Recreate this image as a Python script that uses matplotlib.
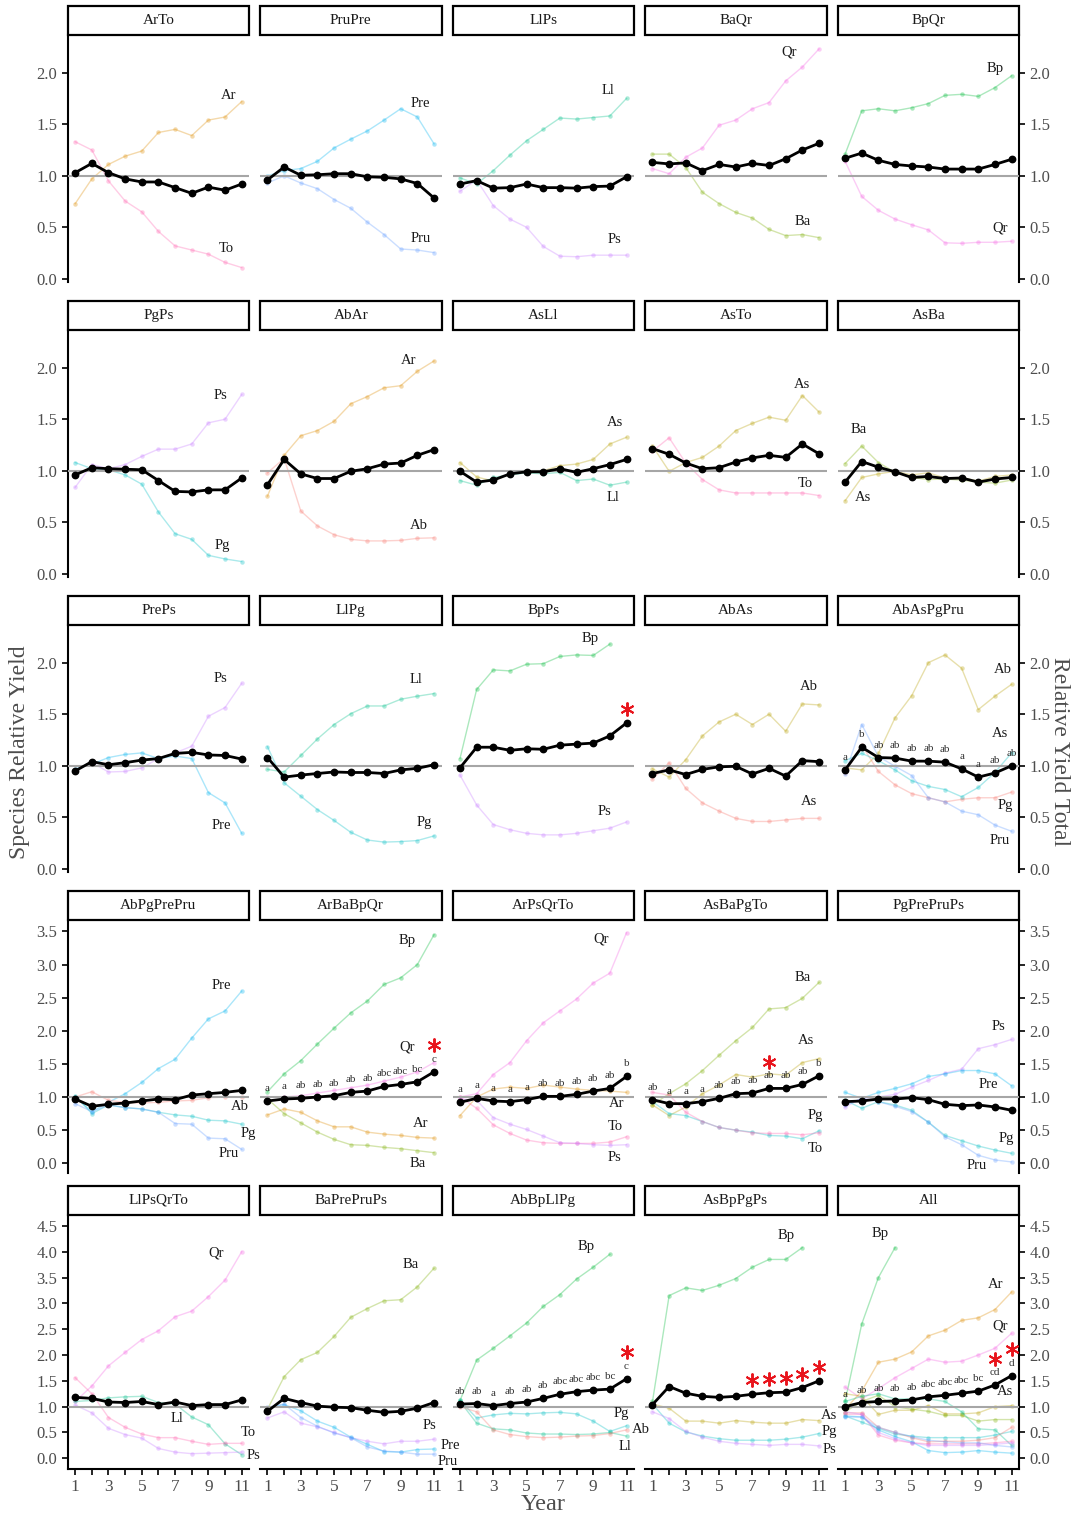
import matplotlib
matplotlib.use("Agg")
import matplotlib.pyplot as plt
from matplotlib.patches import Rectangle
from matplotlib.transforms import ScaledTranslation

plt.rcParams['font.family'] = ['Liberation Serif', 'DejaVu Serif']

NaN = float("nan")
years = list(range(1, 12))
x_tick_labels = ["1", "", "3", "", "5", "", "7", "", "9", "", "11"]

species_colors = {"Ab": "#F8766D", "Ar": "#DE8C00", "As": "#B79F00", "Ba": "#7CAE00",
                  "Bp": "#00BA38", "Ll": "#00C08B", "Pg": "#00BFC4", "Pre": "#00B4F0",
                  "Pru": "#619CFF", "Ps": "#C77CFF", "Qr": "#F564E3", "To": "#FF64B0"}

# ---------------- data ----------------
arto_sp = {"Ar": [0.73, 0.97, 1.11, 1.19, 1.24, 1.42, 1.45, 1.39, 1.54, 1.57, 1.72],
           "To": [1.33, 1.25, 0.95, 0.755, 0.65, 0.46, 0.32, 0.28, 0.24, 0.16, 0.11]}
arto_tot = [1.03, 1.12, 1.03, 0.97, 0.94, 0.94, 0.885, 0.83, 0.89, 0.86, 0.92]

prupre_sp = {"Pre": [1.00, 1.05, 1.07, 1.14, 1.27, 1.355, 1.435, 1.54, 1.65, 1.57, 1.31],
             "Pru": [0.93, 1.00, 0.93, 0.875, 0.77, 0.685, 0.55, 0.43, 0.29, 0.28, 0.255]}
prupre_tot = [0.96, 1.085, 1.005, 1.01, 1.02, 1.02, 0.99, 0.985, 0.97, 0.925, 0.785]

llps_sp = {"Ll": [0.98, 0.92, 1.05, 1.20, 1.34, 1.45, 1.56, 1.55, 1.565, 1.58, 1.75],
           "Ps": [0.85, 0.96, 0.71, 0.58, 0.50, 0.315, 0.22, 0.215, 0.23, 0.23, 0.23]}
llps_tot = [0.92, 0.953, 0.88, 0.885, 0.92, 0.885, 0.885, 0.88, 0.895, 0.90, 0.99]

baqr_sp = {"Qr": [1.07, 1.02, 1.18, 1.27, 1.49, 1.54, 1.65, 1.71, 1.92, 2.055, 2.23],
           "Ba": [1.21, 1.21, 1.08, 0.84, 0.73, 0.645, 0.59, 0.48, 0.42, 0.43, 0.40]}
baqr_tot = [1.13, 1.115, 1.125, 1.05, 1.11, 1.085, 1.12, 1.10, 1.165, 1.25, 1.315]

bpqr_sp = {"Bp": [1.21, 1.63, 1.65, 1.63, 1.66, 1.70, 1.78, 1.79, 1.77, 1.855, 1.97],
           "Qr": [1.14, 0.80, 0.665, 0.58, 0.525, 0.475, 0.35, 0.345, 0.355, 0.355, 0.365]}
bpqr_tot = [1.17, 1.22, 1.15, 1.11, 1.095, 1.085, 1.065, 1.065, 1.065, 1.11, 1.16]

pgps_sp = {"Ps": [0.84, 1.06, 1.02, 1.06, 1.14, 1.21, 1.21, 1.26, 1.465, 1.50, 1.74],
           "Pg": [1.08, 1.02, 1.01, 0.96, 0.87, 0.60, 0.39, 0.335, 0.18, 0.145, 0.12]}
pgps_tot = [0.96, 1.03, 1.02, 1.015, 1.01, 0.905, 0.80, 0.795, 0.815, 0.815, 0.93]

abar_sp = {"Ar": [0.755, 1.15, 1.34, 1.39, 1.48, 1.65, 1.72, 1.805, 1.825, 1.965, 2.065],
           "Ab": [0.98, 1.12, 0.61, 0.465, 0.38, 0.335, 0.32, 0.32, 0.325, 0.345, 0.35]}
abar_tot = [0.865, 1.11, 0.97, 0.925, 0.925, 0.995, 1.02, 1.065, 1.075, 1.15, 1.205]

asll_sp = {"As": [1.08, 0.94, 0.90, 0.97, 0.995, 1.00, 1.05, 1.065, 1.11, 1.26, 1.325],
           "Ll": [0.905, 0.86, 0.935, 0.96, 0.98, 0.97, 0.985, 0.905, 0.92, 0.86, 0.89]}
asll_tot = [0.995, 0.89, 0.91, 0.97, 0.99, 0.99, 1.02, 0.985, 1.02, 1.06, 1.11]

asto_sp = {"As": [1.24, 0.995, 1.08, 1.13, 1.24, 1.39, 1.46, 1.52, 1.49, 1.73, 1.57],
           "To": [1.19, 1.32, 1.075, 0.915, 0.815, 0.785, 0.785, 0.785, 0.785, 0.785, 0.76]}
asto_tot = [1.215, 1.16, 1.075, 1.02, 1.03, 1.085, 1.125, 1.15, 1.13, 1.26, 1.165]

asba_sp = {"Ba": [1.07, 1.24, 1.08, 0.985, 0.935, 0.915, 0.92, 0.91, 0.89, 0.88, 0.91],
           "As": [0.71, 0.935, 0.97, 0.995, 0.96, 0.98, 0.93, 0.935, 0.90, 0.945, 0.96]}
asba_tot = [0.89, 1.09, 1.035, 0.99, 0.935, 0.945, 0.925, 0.93, 0.89, 0.92, 0.935]

preps_sp = {"Ps": [0.96, 1.03, 0.94, 0.945, 0.98, 1.07, 1.125, 1.19, 1.48, 1.565, 1.80],
            "Pre": [0.97, 1.015, 1.08, 1.11, 1.125, 1.07, 1.095, 1.07, 0.74, 0.64, 0.345]}
preps_tot = [0.95, 1.04, 1.01, 1.03, 1.055, 1.07, 1.12, 1.13, 1.105, 1.10, 1.065]

llpg_sp = {"Ll": [0.965, 0.94, 1.10, 1.26, 1.40, 1.505, 1.58, 1.58, 1.645, 1.675, 1.70],
           "Pg": [1.185, 0.835, 0.705, 0.575, 0.47, 0.355, 0.28, 0.26, 0.265, 0.275, 0.32]}
llpg_tot = [1.08, 0.89, 0.91, 0.925, 0.94, 0.935, 0.935, 0.925, 0.96, 0.975, 1.01]

bpps_sp = {"Bp": [1.07, 1.74, 1.93, 1.92, 1.985, 1.99, 2.06, 2.075, 2.07, 2.18, NaN],
           "Ps": [0.91, 0.62, 0.43, 0.38, 0.345, 0.33, 0.33, 0.345, 0.37, 0.395, 0.455]}
bpps_tot = [0.98, 1.18, 1.18, 1.15, 1.165, 1.16, 1.20, 1.21, 1.22, 1.29, 1.415]
bpps_stars = [11]

abas_sp = {"As": [0.97, 0.89, 1.06, 1.29, 1.425, 1.50, 1.40, 1.50, 1.335, 1.60, 1.59],
           "Ab": [0.87, 1.03, 0.78, 0.64, 0.56, 0.49, 0.46, 0.46, 0.475, 0.49, 0.49]}
abas_tot = [0.925, 0.96, 0.915, 0.965, 0.99, 0.995, 0.92, 0.975, 0.90, 1.05, 1.04]

abaspgpru_sp = {"As": [0.98, 0.96, 1.12, 1.465, 1.68, 2.00, 2.075, 1.945, 1.545, 1.675, 1.79],
                "Ab": [0.93, 1.20, 0.945, 0.815, 0.73, 0.69, 0.65, 0.675, 0.69, 0.69, 0.745],
                "Pg": [1.05, 1.12, 1.05, 0.96, 0.855, 0.80, 0.77, 0.70, 0.79, 0.935, 1.125],
                "Pru": [0.92, 1.40, 1.09, 0.995, 0.905, 0.69, 0.65, 0.56, 0.525, 0.425, 0.365]}
abaspgpru_tot = [0.96, 1.18, 1.08, 1.075, 1.045, 1.045, 1.035, 0.97, 0.89, 0.93, 1.00]
abaspgpru_letters = ["a", "b", "ab", "ab", "ab", "ab", "ab", "a", "a", "ab", "ab"]

abpgprepru_sp = {"Pre": [1.00, 0.78, 0.92, 1.05, 1.22, 1.43, 1.57, 1.89, 2.18, 2.30, 2.60],
                 "Ab": [1.00, 1.08, 0.95, 0.92, 0.91, 0.92, 0.94, 0.95, 0.99, 1.00, 1.00],
                 "Pg": [1.02, 0.75, 0.88, 0.84, 0.82, 0.77, 0.73, 0.71, 0.65, 0.64, 0.59],
                 "Pru": [0.90, 0.78, 0.88, 0.84, 0.82, 0.77, 0.60, 0.59, 0.38, 0.37, 0.21]}
abpgprepru_tot = [0.97, 0.86, 0.89, 0.91, 0.94, 0.97, 0.96, 1.03, 1.05, 1.07, 1.10]

arbabpqr_sp = {"Bp": [1.08, 1.35, 1.55, 1.80, 2.04, 2.27, 2.45, 2.70, 2.80, 3.00, 3.45],
               "Qr": [1.00, 1.00, 1.02, 1.06, 1.10, 1.14, 1.18, 1.24, 1.30, 1.38, 1.52],
               "Ar": [0.73, 0.82, 0.77, 0.64, 0.55, 0.55, 0.47, 0.44, 0.42, 0.39, 0.38],
               "Ba": [0.97, 0.75, 0.61, 0.47, 0.36, 0.28, 0.27, 0.24, 0.22, 0.19, 0.16]}
arbabpqr_tot = [0.94, 0.97, 0.98, 1.00, 1.02, 1.07, 1.09, 1.16, 1.19, 1.23, 1.38]
arbabpqr_letters = ["a", "a", "ab", "ab", "ab", "ab", "ab", "abc", "abc", "bc", "c"]
arbabpqr_stars = [11]

arpsqrto_sp = {"Qr": [1.00, 1.05, 1.34, 1.52, 1.85, 2.12, 2.30, 2.48, 2.72, 2.87, 3.48],
               "Ar": [0.72, 1.00, 1.12, 1.15, 1.13, 1.18, 1.15, 1.12, 1.10, 1.09, 1.07],
               "To": [1.00, 0.83, 0.58, 0.45, 0.35, 0.31, 0.30, 0.30, 0.30, 0.32, 0.40],
               "Ps": [0.97, 0.95, 0.69, 0.59, 0.51, 0.41, 0.31, 0.30, 0.28, 0.27, 0.28]}
arpsqrto_tot = [0.92, 0.98, 0.94, 0.93, 0.96, 1.01, 1.01, 1.04, 1.09, 1.13, 1.31]
arpsqrto_letters = ["a", "a", "a", "a", "a", "ab", "ab", "ab", "ab", "ab", "b"]

asbapgto_sp = {"Ba": [0.88, 1.05, 1.20, 1.40, 1.63, 1.85, 2.05, 2.33, 2.35, 2.49, 2.73],
               "As": [0.88, 0.72, 0.85, 1.05, 1.18, 1.34, 1.30, 1.35, 1.33, 1.52, 1.58],
               "Pg": [0.93, 0.75, 0.72, 0.63, 0.54, 0.50, 0.47, 0.42, 0.41, 0.37, 0.49],
               "To": [1.07, 1.03, 0.77, 0.63, 0.54, 0.50, 0.46, 0.45, 0.45, 0.43, 0.46]}
asbapgto_tot = [0.96, 0.90, 0.90, 0.93, 0.98, 1.05, 1.06, 1.13, 1.13, 1.19, 1.32]
asbapgto_letters = ["ab", "a", "a", "a", "ab", "ab", "ab", "ab", "ab", "ab", "b"]
asbapgto_stars = [8]

pgpreprups_sp = {"Ps": [0.85, 0.98, 1.00, 1.04, 1.15, 1.25, 1.36, 1.42, 1.73, 1.79, 1.87],
                 "Pre": [1.07, 0.98, 1.07, 1.13, 1.20, 1.31, 1.35, 1.40, 1.40, 1.35, 1.17],
                 "Pg": [0.95, 0.83, 0.93, 0.88, 0.80, 0.62, 0.42, 0.34, 0.26, 0.20, 0.15],
                 "Pru": [0.88, 0.98, 0.93, 0.86, 0.78, 0.62, 0.40, 0.28, 0.12, 0.05, 0.02]}
pgpreprups_tot = [0.93, 0.94, 0.97, 0.97, 0.99, 0.96, 0.89, 0.87, 0.88, 0.85, 0.80]

llpsqrto_sp = {"Qr": [1.10, 1.40, 1.79, 2.05, 2.30, 2.47, 2.74, 2.85, 3.13, 3.45, 4.00],
               "Ll": [1.10, 1.12, 1.17, 1.19, 1.20, 1.08, 1.05, 0.80, 0.65, 0.28, 0.07],
               "To": [1.56, 1.25, 0.79, 0.60, 0.47, 0.40, 0.40, 0.33, 0.27, 0.29, 0.29],
               "Ps": [1.03, 0.88, 0.58, 0.46, 0.39, 0.19, 0.12, 0.09, 0.10, 0.11, 0.12]}
llpsqrto_tot = [1.18, 1.16, 1.09, 1.08, 1.10, 1.04, 1.09, 1.02, 1.04, 1.04, 1.13]

bapreprups_sp = {"Ba": [0.95, 1.58, 1.91, 2.05, 2.36, 2.73, 2.90, 3.05, 3.07, 3.32, 3.68],
                 "Ps": [0.78, 0.90, 0.68, 0.61, 0.50, 0.40, 0.33, 0.28, 0.33, 0.33, 0.37],
                 "Pre": [0.98, 1.04, 0.92, 0.72, 0.60, 0.41, 0.27, 0.13, 0.12, 0.17, 0.18],
                 "Pru": [0.99, 1.05, 0.79, 0.62, 0.49, 0.40, 0.22, 0.14, 0.12, 0.08, 0.08]}
bapreprups_tot = [0.91, 1.16, 1.08, 1.01, 0.99, 0.98, 0.93, 0.89, 0.91, 0.97, 1.08]

abbpllpg_sp = {"Bp": [1.12, 1.90, 2.13, 2.37, 2.62, 2.94, 3.17, 3.47, 3.70, 3.95, NaN],
               "Pg": [1.12, 0.78, 0.84, 0.87, 0.86, 0.88, 0.89, 0.86, 0.72, 0.52, 0.63],
               "Ll": [1.10, 0.68, 0.57, 0.55, 0.49, 0.47, 0.47, 0.46, 0.47, 0.50, 0.43],
               "Ab": [1.00, 0.90, 0.55, 0.46, 0.42, 0.40, 0.41, 0.43, 0.44, 0.48, 0.55]}
abbpllpg_tot = [1.05, 1.06, 1.02, 1.06, 1.09, 1.16, 1.24, 1.29, 1.32, 1.34, 1.54]
abbpllpg_letters = ["ab", "ab", "a", "ab", "ab", "ab", "abc", "abc", "abc", "bc", "c"]
abbpllpg_stars = [11]

asbppgps_sp = {"Bp": [1.10, 3.15, 3.30, 3.25, 3.35, 3.48, 3.70, 3.85, 3.85, 4.08, NaN],
               "As": [1.05, 0.97, 0.72, 0.72, 0.68, 0.73, 0.70, 0.68, 0.68, 0.75, 0.73],
               "Pg": [1.05, 0.68, 0.51, 0.43, 0.38, 0.35, 0.35, 0.35, 0.37, 0.41, 0.48],
               "Ps": [0.90, 0.77, 0.52, 0.41, 0.33, 0.29, 0.27, 0.25, 0.27, 0.27, 0.24]}
asbppgps_tot = [1.04, 1.39, 1.26, 1.20, 1.18, 1.20, 1.24, 1.27, 1.28, 1.37, 1.50]
asbppgps_stars = [7, 8, 9, 10, 11]

all_sp = {"Bp": [1.10, 2.60, 3.50, 4.08, NaN, NaN, NaN, NaN, NaN, NaN, NaN],
          "Ar": [0.95, 1.30, 1.86, 1.92, 2.06, 2.37, 2.48, 2.67, 2.72, 2.88, 3.22],
          "Qr": [1.38, 1.15, 1.35, 1.56, 1.74, 1.92, 1.86, 1.88, 2.00, 2.13, 2.42],
          "As": [1.25, 1.20, 0.85, 0.93, 0.93, 1.02, 0.86, 0.86, 0.88, 1.00, 1.02],
          "Ba": [0.90, 1.10, 1.22, 1.00, 0.95, 0.91, 0.83, 0.83, 0.72, 0.75, 0.75],
          "Ll": [1.10, 1.20, 1.25, 1.15, 1.15, 1.15, 1.10, 0.90, 0.57, 0.55, 0.25],
          "Pg": [0.82, 0.70, 0.58, 0.47, 0.43, 0.40, 0.40, 0.40, 0.40, 0.45, 0.52],
          "To": [0.85, 0.85, 0.45, 0.35, 0.30, 0.28, 0.28, 0.28, 0.28, 0.30, 0.33],
          "Ab": [0.88, 0.88, 0.60, 0.50, 0.40, 0.32, 0.33, 0.33, 0.35, 0.40, 0.60],
          "Pre": [0.82, 0.80, 0.55, 0.42, 0.32, 0.15, 0.11, 0.12, 0.15, 0.12, 0.10],
          "Pru": [0.80, 0.80, 0.60, 0.50, 0.42, 0.35, 0.32, 0.30, 0.30, 0.25, 0.22],
          "Ps": [0.90, 0.85, 0.50, 0.38, 0.30, 0.25, 0.25, 0.25, 0.25, 0.27, 0.30]}
all_tot = [1.00, 1.08, 1.10, 1.11, 1.13, 1.19, 1.22, 1.26, 1.30, 1.42, 1.60]
all_letters = ["a", "ab", "ab", "ab", "ab", "abc", "abc", "abc", "bc", "cd", "d"]
all_stars = [10, 11]

panels = [
    ("ArTo", arto_sp, arto_tot, None, []),
    ("PruPre", prupre_sp, prupre_tot, None, []),
    ("LlPs", llps_sp, llps_tot, None, []),
    ("BaQr", baqr_sp, baqr_tot, None, []),
    ("BpQr", bpqr_sp, bpqr_tot, None, []),
    ("PgPs", pgps_sp, pgps_tot, None, []),
    ("AbAr", abar_sp, abar_tot, None, []),
    ("AsLl", asll_sp, asll_tot, None, []),
    ("AsTo", asto_sp, asto_tot, None, []),
    ("AsBa", asba_sp, asba_tot, None, []),
    ("PrePs", preps_sp, preps_tot, None, []),
    ("LlPg", llpg_sp, llpg_tot, None, []),
    ("BpPs", bpps_sp, bpps_tot, None, bpps_stars),
    ("AbAs", abas_sp, abas_tot, None, []),
    ("AbAsPgPru", abaspgpru_sp, abaspgpru_tot, abaspgpru_letters, []),
    ("AbPgPrePru", abpgprepru_sp, abpgprepru_tot, None, []),
    ("ArBaBpQr", arbabpqr_sp, arbabpqr_tot, arbabpqr_letters, arbabpqr_stars),
    ("ArPsQrTo", arpsqrto_sp, arpsqrto_tot, arpsqrto_letters, []),
    ("AsBaPgTo", asbapgto_sp, asbapgto_tot, asbapgto_letters, asbapgto_stars),
    ("PgPrePruPs", pgpreprups_sp, pgpreprups_tot, None, []),
    ("LlPsQrTo", llpsqrto_sp, llpsqrto_tot, None, []),
    ("BaPrePruPs", bapreprups_sp, bapreprups_tot, None, []),
    ("AbBpLlPg", abbpllpg_sp, abbpllpg_tot, abbpllpg_letters, abbpllpg_stars),
    ("AsBpPgPs", asbppgps_sp, asbppgps_tot, None, asbppgps_stars),
    ("All", all_sp, all_tot, all_letters, all_stars),
]

# ---------------- species name label placement (text positions) ----------------
name_labels = {
    "ArTo": [("Ar", 10.2, 1.78), ("To", 10.1, 0.29)],
    "PruPre": [("Pre", 10.2, 1.70), ("Pru", 10.2, 0.39)],
    "LlPs": [("Ll", 9.9, 1.83), ("Ps", 10.3, 0.38)],
    "BaQr": [("Qr", 9.2, 2.20), ("Ba", 10.0, 0.56)],
    "BpQr": [("Bp", 10.0, 2.04), ("Qr", 10.3, 0.49)],
    "PgPs": [("Ps", 9.75, 1.73), ("Pg", 9.85, 0.28)],
    "AbAr": [("Ar", 9.5, 2.07), ("Ab", 10.1, 0.47)],
    "AsLl": [("As", 10.3, 1.47), ("Ll", 10.2, 0.74)],
    "AsTo": [("As", 10.0, 1.84), ("To", 10.2, 0.88)],
    "AsBa": [("Ba", 1.8, 1.40), ("As", 2.1, 0.745)],
    "PrePs": [("Ps", 9.7, 1.85), ("Pre", 9.8, 0.42)],
    "LlPg": [("Ll", 9.9, 1.84), ("Pg", 10.4, 0.45)],
    "BpPs": [("Bp", 8.8, 2.23), ("Ps", 9.7, 0.56)],
    "AbAs": [("Ab", 10.4, 1.77), ("As", 10.4, 0.65)],
    "AbAsPgPru": [("Ab", 10.5, 1.935), ("As", 10.3, 1.31), ("Pg", 10.6, 0.61), ("Pru", 10.3, 0.28)],
    "AbPgPrePru": [("Pre", 9.8, 2.69), ("Ab", 10.9, 0.86), ("Pg", 11.4, 0.45), ("Pru", 10.2, 0.15)],
    "ArBaBpQr": [("Bp", 9.4, 3.36), ("Qr", 9.4, 1.75), ("Ar", 10.2, 0.60), ("Ba", 10.0, 0.0)],
    "ArPsQrTo": [("Qr", 9.5, 3.38), ("Ar", 10.4, 0.90), ("To", 10.3, 0.56), ("Ps", 10.3, 0.09)],
    "AsBaPgTo": [("Ba", 10.0, 2.80), ("As", 10.2, 1.86), ("Pg", 10.8, 0.72), ("To", 10.8, 0.23)],
    "PgPrePruPs": [("Ps", 10.2, 2.06), ("Pre", 9.6, 1.19), ("Pg", 10.7, 0.38), ("Pru", 8.9, -0.03)],
    "LlPsQrTo": [("Qr", 9.45, 3.98), ("Ll", 7.1, 0.77), ("To", 11.4, 0.50), ("Ps", 11.7, 0.06)],
    "BaPrePruPs": [("Ba", 9.6, 3.76), ("Ps", 10.7, 0.63), ("Pre", 11.97, 0.25), ("Pru", 11.85, -0.06)],
    "AbBpLlPg": [("Bp", 8.6, 4.11), ("Pg", 10.7, 0.86), ("Ab", 11.85, 0.55), ("Ll", 10.9, 0.23)],
    "AsBpPgPs": [("Bp", 9.0, 4.31), ("As", 11.6, 0.83), ("Pg", 11.6, 0.51), ("Ps", 11.6, 0.18)],
    "All": [("Bp", 3.1, 4.35), ("Ar", 10.05, 3.37), ("Qr", 10.3, 2.56), ("As", 10.6, 1.29)],
}

# ---------------- layout (pixels) ----------------
W, H = 1078, 1522
col_left = [67.7, 260.0, 452.5, 645.0, 837.6]
panel_w = 181.5
row_top = [34.5, 329.5, 624.5, 919.5, 1214.5]
row_bottom = [282.0, 577.0, 872.0, 1173.0, 1469.0]
strip_h = 28.5
row_ylim = [(-0.03, 2.37), (-0.03, 2.37), (-0.03, 2.37), (-0.147, 3.68), (-0.207, 4.72)]
row_yticks = [[0, 0.5, 1.0, 1.5, 2.0]] * 3 + [[0, 0.5, 1.0, 1.5, 2.0, 2.5, 3.0, 3.5],
                                              [0, 0.5, 1.0, 1.5, 2.0, 2.5, 3.0, 3.5, 4.0, 4.5]]
tick_grey = "#4D4D4D"

fig = plt.figure(figsize=(W / 100, H / 100), dpi=100)
fig.patch.set_facecolor("white")

for idx, (name, sp, tot, letters, stars) in enumerate(panels):
    r, c = divmod(idx, 5)
    left = col_left[c] / W
    bottom = 1 - row_bottom[r] / H
    height = (row_bottom[r] - row_top[r]) / H
    ax = fig.add_axes([left, bottom, panel_w / W, height])
    ax.patch.set_visible(False)
    ax.set_xlim(0.55, 11.45)
    ax.set_ylim(*row_ylim[r])

    for s, vals in sp.items():
        ax.plot(years, vals, color=species_colors[s], lw=1.0, alpha=0.33,
                marker='o', ms=3.2, mew=0, zorder=2)
    ax.axhline(1.0, color="#A6A6A6", lw=1.5, zorder=3)
    ax.plot(years, tot, color="black", lw=2.0, marker='o', ms=4.6, zorder=5)

    if letters:
        for yr, v, lt in zip(years, tot, letters):
            ax.annotate(lt, (yr, v), xytext=(0, 9.0), textcoords="offset points",
                        ha="center", va="center", fontsize=8, color="#333333", zorder=6)
    if stars:
        dy = 19.0 if letters else 10.0
        trans = ax.transData + ScaledTranslation(0, dy / 72, fig.dpi_scale_trans)
        sx = [yr for yr in stars]
        sy = [tot[yr - 1] for yr in stars]
        ax.plot(sx, sy, linestyle="none", marker=(6, 2, 0), ms=10, mew=1.4,
                color="#E8141C", transform=trans, clip_on=False, zorder=7)

    for txt, lx, ly in name_labels[name]:
        ax.text(lx, ly, txt, ha="center", va="center", fontsize=10.5,
                color="#1A1A1A", clip_on=False, zorder=6)

    # spines / ticks
    for sname in ["top", "left", "right", "bottom"]:
        ax.spines[sname].set_visible(False)
        ax.spines[sname].set_linewidth(1.5)
    ax.tick_params(axis="both", which="both", length=4, width=1.2, color="black",
                   labelcolor=tick_grey, labelsize=12, direction="out")
    if c == 0:
        ax.spines["left"].set_visible(True)
        ax.set_yticks(row_yticks[r])
        ax.set_yticklabels([f"{t:.1f}" for t in row_yticks[r]])
    elif c == 4:
        ax.spines["right"].set_visible(True)
        ax.yaxis.tick_right()
        ax.set_yticks(row_yticks[r])
        ax.set_yticklabels([f"{t:.1f}" for t in row_yticks[r]])
    else:
        ax.set_yticks([])
    if r == 4:
        ax.spines["bottom"].set_visible(True)
        ax.set_xticks(years)
        ax.set_xticklabels(x_tick_labels)
        ax.tick_params(axis="x", labelsize=12.5)
    else:
        ax.set_xticks([])

    # strip
    sh = strip_h / (row_bottom[r] - row_top[r])
    ax.add_patch(Rectangle((0, 1.0), 1, sh, transform=ax.transAxes, fc="white",
                           ec="black", lw=1.6, clip_on=False, zorder=10))
    ax.text(0.5, 1.0 + sh / 2, name, transform=ax.transAxes, ha="center", va="center",
            fontsize=11, color="#1A1A1A", zorder=11, clip_on=False)

fig.text(20 / W, 1 - 752 / H, "Species Relative Yield", rotation=90, ha="center",
         va="center", fontsize=17, color=tick_grey)
fig.text(1060 / W, 1 - 752 / H, "Relative Yield Total", rotation=270, ha="center",
         va="center", fontsize=17, color=tick_grey)
fig.text(543 / W, 1 - 1505 / H, "Year", ha="center", va="center", fontsize=17.5,
         color=tick_grey)

fig.savefig("out.png", dpi=100, facecolor="white")
